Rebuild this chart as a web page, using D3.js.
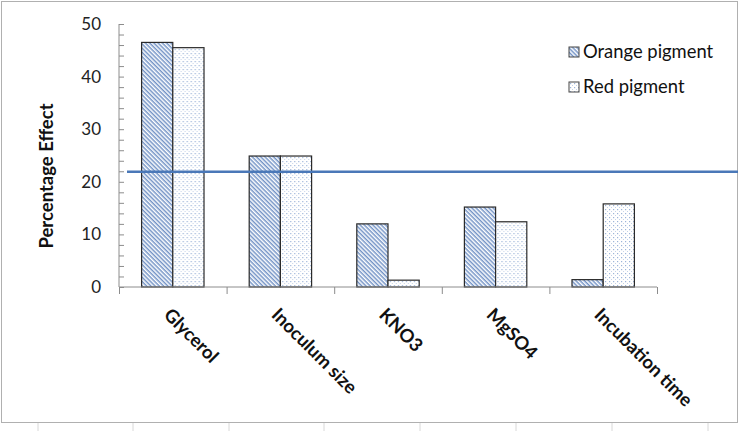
<!DOCTYPE html>
<html>
<head>
<meta charset="utf-8">
<script src="https://cdn.jsdelivr.net/npm/d3@7"></script>
<style>
  body { margin: 0; background: #fff; }
  svg { display: block; font-family: Lato, "Open Sans", sans-serif; }
</style>
</head>
<body>
<div id="chart"></div>
<script>
// data
let categories = ["Glycerol", "Inoculum size", "KNO3", "MgSO4", "Incubation time"]
let seriesNames = ["Orange pigment", "Red pigment"]
let orangeValues = [46.5, 24.9, 12.0, 15.2, 1.4]
let redValues = [45.5, 24.9, 1.3, 12.4, 15.8]
let refLine = 21.9
let yTicks = [0, 10, 20, 30, 40, 50]

let width = 740, height = 431

let svg = d3.select("#chart").append("svg")
    .attr("width", width)
    .attr("height", height)

let defs = svg.append("defs")

// hatch pattern for orange pigment
let hatch = defs.append("pattern")
    .attr("id", "hatch")
    .attr("patternUnits", "userSpaceOnUse")
    .attr("width", 3).attr("height", 3)
    .attr("patternTransform", "rotate(45)")
hatch.append("rect").attr("width", 3).attr("height", 3).attr("fill", "#ffffff")
hatch.append("rect").attr("width", 3).attr("height", 1.5).attr("fill", "#7393c6")

// dotted pattern for red pigment
let dots = defs.append("pattern")
    .attr("id", "dots")
    .attr("patternUnits", "userSpaceOnUse")
    .attr("width", 4).attr("height", 4)
dots.append("rect").attr("width", 4).attr("height", 4).attr("fill", "#ffffff")
dots.append("rect").attr("x", 1).attr("y", 1).attr("width", 1.2).attr("height", 1.2).attr("fill", "#9db4d8")
dots.append("rect").attr("x", 3).attr("y", 3).attr("width", 1).attr("height", 1).attr("fill", "#c4d2e8")

let fills = ["url(#hatch)", "url(#dots)"]

// spreadsheet grid stubs under the chart
let gridX = [38, 133, 229, 324, 420, 516, 612, 708]
svg.selectAll(".grid")
    .data(gridX)
    .enter().append("line")
    .attr("x1", d => d).attr("x2", d => d)
    .attr("y1", 423).attr("y2", height)
    .attr("stroke", "#d8d8d8")

// chart border
svg.append("rect")
    .attr("x", 1.5).attr("y", 1.5)
    .attr("width", 736).attr("height", 421)
    .attr("fill", "#fff")
    .attr("stroke", "#b0b0b0")

let x0 = 119, x1 = 657
let y = d3.scaleLinear().domain([0, 50]).range([287, 24])
let xEdge = d3.scaleLinear().domain([0, categories.length]).range([x0, x1])
let x = d3.scaleBand().domain(categories).range([x0, x1]).paddingInner(0.42).paddingOuter(0.21)
let xs = d3.scaleBand().domain([0, 1]).range([0, x.bandwidth()])

let data = categories.map(function (c, i) {
    return { cat: c, vals: [orangeValues[i], redValues[i]] }
})

// y axis
let yAxisG = svg.append("g")
    .attr("transform", "translate(" + x0 + ",0)")
    .call(d3.axisRight(y).tickValues(d3.range(0, 51, 2)).tickSize(5).tickFormat(""))
yAxisG.select(".domain").attr("stroke", "#8c8c8c").attr("d", "M0," + y(50) + "V" + y(0))
yAxisG.selectAll(".tick line").attr("stroke", "#8c8c8c")

svg.selectAll(".ylab")
    .data(yTicks)
    .enter().append("text")
    .attr("x", 101)
    .attr("y", d => y(d) + 6)
    .attr("text-anchor", "end")
    .attr("font-size", 17)
    .attr("fill", "#222")
    .text(d => d)

svg.append("text")
    .attr("transform", "translate(53,176) rotate(-90)")
    .attr("text-anchor", "middle")
    .attr("font-size", 18.5)
    .attr("font-weight", "bold")
    .attr("fill", "#111")
    .text("Percentage Effect")

// bars
let groups = svg.selectAll(".grp")
    .data(data)
    .enter().append("g")
    .attr("transform", d => "translate(" + x(d.cat) + ",0)")

groups.selectAll("rect")
    .data(d => d.vals)
    .enter().append("rect")
    .attr("x", (d, i) => xs(i))
    .attr("y", d => y(d))
    .attr("width", xs.bandwidth())
    .attr("height", d => y(0) - y(d))
    .attr("fill", (d, i) => fills[i])
    .attr("stroke", "#2a2a2a")
    .attr("stroke-width", 1.2)

// x axis
let xAxisG = svg.append("g")
    .attr("transform", "translate(0," + y(0) + ")")
    .call(d3.axisBottom(xEdge).ticks(5).tickSize(7).tickFormat(""))
xAxisG.select(".domain").attr("stroke", "#8c8c8c").attr("d", "M" + x0 + ",0H" + x1)
xAxisG.selectAll(".tick line").attr("stroke", "#8c8c8c")

svg.selectAll(".xlab")
    .data(categories)
    .enter().append("text")
    .attr("transform", d => "translate(" + (x(d) + x.bandwidth() / 2 - 10) + ",316) rotate(45)")
    .attr("font-size", 18.5)
    .attr("font-weight", "bold")
    .attr("fill", "#111")
    .text(d => d)

// reference line
svg.append("line")
    .attr("x1", 127).attr("x2", 738)
    .attr("y1", y(refLine)).attr("y2", y(refLine))
    .attr("stroke", "#4a78b8")
    .attr("stroke-width", 2.5)

// legend
let legend = svg.selectAll(".leg")
    .data(seriesNames)
    .enter().append("g")
    .attr("transform", (d, i) => "translate(569," + (47 + i * 35) + ")")
legend.append("rect")
    .attr("width", 10).attr("height", 10)
    .attr("fill", (d, i) => fills[i])
    .attr("stroke", "#444")
legend.append("text")
    .attr("x", 14).attr("y", 11)
    .attr("font-size", 18.4)
    .attr("fill", "#111")
    .text(d => d)
</script>
</body>
</html>
